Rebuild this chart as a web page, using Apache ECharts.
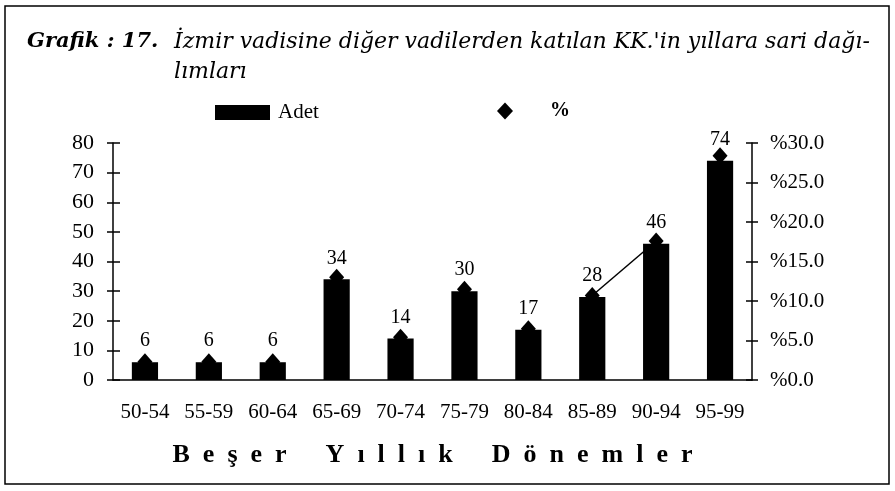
<!DOCTYPE html>
<html>
<head>
<meta charset="utf-8">
<title>Grafik 17</title>
<script src="https://cdn.jsdelivr.net/npm/echarts@6/dist/echarts.min.js"></script>
<style>
  html, body { margin: 0; padding: 0; background: #fff; }
  #main { width: 895px; height: 491px; }
</style>
</head>
<body>
<div id="main"></div>
<script type="text/javascript">
// periods (x axis)
var donemler = ['50-54', '55-59', '60-64', '65-69', '70-74', '75-79', '80-84', '85-89', '90-94', '95-99'];
// number of KK (bars, left axis)
var adet = [6, 6, 6, 34, 14, 30, 17, 28, 46, 74];
// share in % (diamonds, right axis)
var yuzde = [2.3, 2.3, 2.3, 13.0, 5.4, 11.5, 6.5, 10.7, 17.6, 28.4];

var serif = '"Liberation Serif", "DejaVu Serif", serif';
var wideSerif = '"DejaVu Serif", "Liberation Serif", serif';

// spaced-out axis title, as in the printed chart
var eksenAdi = ['Beşer', 'Yıllık', 'Dönemler'].map(function (w) {
    return w.split('').join('  ');
}).join('      ');

var myChart = echarts.init(document.getElementById('main'));

// extra axes that only draw the outer half of the crossing ticks
function tickAxis(pos, max, interval) {
    return {
        type: 'value', position: pos, min: 0, max: max, interval: interval,
        axisLine: { show: false },
        axisTick: { show: true, length: 6, lineStyle: { color: '#000', width: 1.5 } },
        axisLabel: { show: false },
        splitLine: { show: false }
    };
}

myChart.setOption({
    backgroundColor: '#ffffff',
    animation: false,
    textStyle: { fontFamily: serif, color: '#000' },
    title: [{
        text: 'Grafik : 17.',
        left: 22,
        top: 22,
        textStyle: { fontFamily: wideSerif, fontSize: 21, fontWeight: 'bold', fontStyle: 'italic', color: '#000', lineHeight: 30 }
    }, {
        text: 'İzmir vadisine diğer vadilerden katılan KK.\'in yıllara sari dağı-\nlımları',
        left: 169,
        top: 22,
        textStyle: { fontFamily: wideSerif, fontSize: 22, fontStyle: 'italic', fontWeight: 'normal', color: '#000', lineHeight: 30 }
    }],
    legend: [{
        data: [{ name: 'Adet', icon: 'rect' }],
        left: 210,
        top: 97,
        itemWidth: 55,
        itemHeight: 15,
        textStyle: { fontFamily: serif, fontSize: 21, color: '#000', padding: [0, 0, 0, 3] }
    }, {
        data: [{ name: '%', icon: 'diamond' }],
        left: 492,
        top: 96,
        itemWidth: 16,
        itemHeight: 17,
        textStyle: { fontFamily: serif, fontSize: 20, fontWeight: 'bold', color: '#000', padding: [0, 0, 0, 32] }
    }],
    grid: { left: 113, right: 143, top: 143, bottom: 111 },
    xAxis: {
        type: 'category',
        data: donemler,
        name: eksenAdi,
        nameLocation: 'middle',
        nameGap: 62,
        nameTextStyle: { fontFamily: serif, fontSize: 26, fontWeight: 'bold', color: '#000' },
        axisLine: { lineStyle: { color: '#000', width: 1.5 } },
        axisTick: { length: 6, lineStyle: { color: '#000', width: 1.5 } },
        axisLabel: { fontFamily: serif, fontSize: 21, color: '#000', margin: 22 }
    },
    yAxis: [{
        type: 'value',
        min: 0,
        max: 80,
        interval: 10,
        axisLine: { show: true, lineStyle: { color: '#000', width: 1.5 } },
        axisTick: { show: true, inside: true, length: 7, lineStyle: { color: '#000', width: 1.5 } },
        axisLabel: { fontFamily: serif, fontSize: 22, color: '#000', margin: 19 },
        splitLine: { show: false }
    }, {
        type: 'value',
        min: 0,
        max: 30,
        interval: 5,
        position: 'right',
        axisLine: { show: true, lineStyle: { color: '#000', width: 1.5 } },
        axisTick: { show: true, inside: true, length: 6, lineStyle: { color: '#000', width: 1.5 } },
        axisLabel: {
            fontFamily: serif, fontSize: 21, color: '#000', margin: 18,
            formatter: function (v) { return '%' + v.toFixed(1); }
        },
        splitLine: { show: false }
    },
    tickAxis('left', 80, 10),
    tickAxis('right', 30, 5)
    ],
    series: [{
        name: 'Adet',
        type: 'bar',
        data: adet,
        barWidth: '41%',
        itemStyle: { color: '#000' },
        label: {
            show: true,
            position: 'top',
            distance: 11,
            fontFamily: serif,
            fontSize: 20,
            color: '#000'
        }
    }, {
        name: '%',
        type: 'scatter',
        yAxisIndex: 1,
        data: yuzde,
        symbol: 'diamond',
        symbolSize: [15, 17],
        itemStyle: { color: '#000', opacity: 1 },
        z: 5
    }, {
        // the only connecting segment still visible in the original
        name: 'seg',
        type: 'line',
        yAxisIndex: 1,
        data: yuzde.map(function (v, i) { return (i === 7 || i === 8) ? v : null; }),
        showSymbol: false,
        lineStyle: { color: '#000', width: 1.5 },
        z: 4
    }],
    graphic: [{
        type: 'rect',
        shape: { x: 5, y: 6, width: 884, height: 478 },
        style: { fill: null, stroke: '#000', lineWidth: 1.5 },
        silent: true
    }]
});
</script>
</body>
</html>
